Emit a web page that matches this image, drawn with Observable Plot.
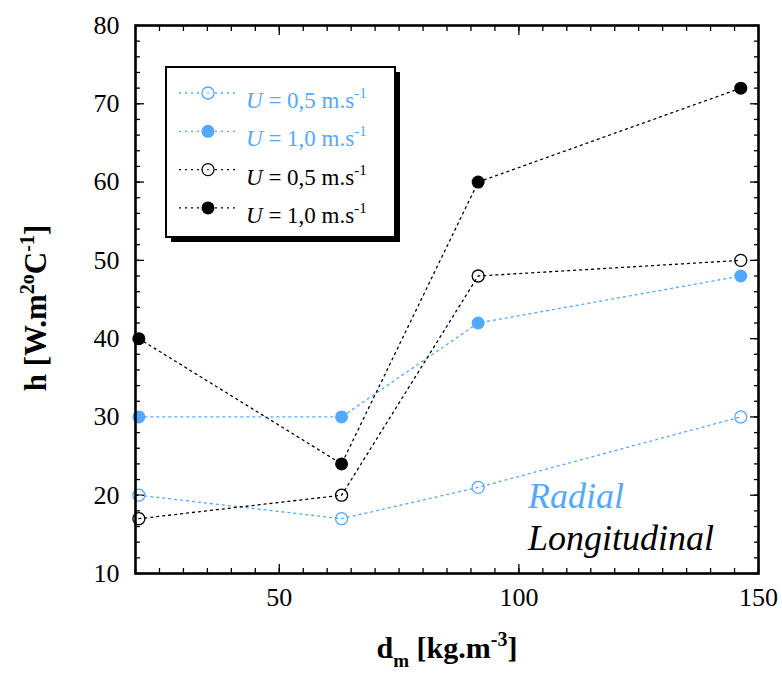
<!DOCTYPE html>
<html>
<head>
<meta charset="utf-8">
<script src="https://cdn.jsdelivr.net/npm/d3@7"></script>
<script src="https://cdn.jsdelivr.net/npm/@observablehq/plot@0.6"></script>
<style>
  html, body { margin: 0; padding: 0; background: white; }
  #chart { position: relative; width: 782px; height: 675px; }
</style>
</head>
<body>
<div id="chart"></div>
<script>
// ---- data ----
const dm = [20.7, 63, 91.5, 146.3];            // d_m [kg.m-3]
const radial05 = [20, 17, 21, 30];             // Radial, U = 0,5 m/s
const radial10 = [30, 30, 42, 48];             // Radial, U = 1,0 m/s
const long05 = [17, 20, 48, 50];               // Longitudinal, U = 0,5 m/s
const long10 = [40, 24, 60, 72];               // Longitudinal, U = 1,0 m/s
const xMajorTicks = [50, 100, 150];
const xMinorTicks = d3.range(20, 151, 5);
const yMajorTicks = [10, 20, 30, 40, 50, 60, 70, 80];
const yMinorTicks = d3.range(10, 81, 2);
const seriesLabels = ["0,5", "1,0", "0,5", "1,0"];

const BLUE = "#52a9ff";
const series = [
  {name: "r05", values: radial05, color: BLUE, filled: false, label: seriesLabels[0]},
  {name: "r10", values: radial10, color: BLUE, filled: true, label: seriesLabels[1]},
  {name: "l05", values: long05, color: "black", filled: false, label: seriesLabels[2]},
  {name: "l10", values: long10, color: "black", filled: true, label: seriesLabels[3]}
];
const rows = series.flatMap(s => dm.map((x, i) => ({x, y: s.values[i], name: s.name})));

const lineMarks = series.map(s => Plot.line(rows.filter(r => r.name === s.name), {
  x: "x", y: "y", stroke: s.color, strokeWidth: 1.3, strokeDasharray: "2,4"
}));
const dotMarks = series.map(s => Plot.dot(rows.filter(r => r.name === s.name), {
  x: "x", y: "y", r: s.filled ? 6.5 : 6,
  fill: s.filled ? s.color : "none", stroke: s.color, strokeWidth: s.filled ? 0 : 1.3
}));

const FONT = "'Liberation Serif', 'Times New Roman', serif";
const chart = Plot.plot({
  width: 782, height: 675,
  marginLeft: 135, marginRight: 24, marginTop: 25, marginBottom: 102,
  x: {domain: [20, 150]},
  y: {domain: [10, 80]},
  style: {fontFamily: FONT, fontSize: "26px", color: "black", background: "white"},
  marks: [
    // minor ticks (inward)
    Plot.axisX(xMinorTicks, {anchor: "bottom", tickSize: -5, fill: "none", strokeWidth: 1.3, label: null}),
    Plot.axisX(xMinorTicks, {anchor: "top", tickSize: -5, fill: "none", strokeWidth: 1.3, label: null}),
    Plot.axisY(yMinorTicks, {anchor: "left", tickSize: -5, fill: "none", strokeWidth: 1.3, label: null}),
    Plot.axisY(yMinorTicks, {anchor: "right", tickSize: -5, fill: "none", strokeWidth: 1.3, label: null}),
    // major ticks (inward)
    Plot.axisX(xMajorTicks, {anchor: "bottom", tickSize: -9, fill: "none", strokeWidth: 1.3, label: null}),
    Plot.axisX(xMajorTicks, {anchor: "top", tickSize: -9, fill: "none", strokeWidth: 1.3, label: null}),
    Plot.axisY(yMajorTicks, {anchor: "left", tickSize: -9, fill: "none", strokeWidth: 1.3, label: null}),
    Plot.axisY(yMajorTicks, {anchor: "right", tickSize: -9, fill: "none", strokeWidth: 1.3, label: null}),
    // tick labels
    Plot.axisX(xMajorTicks, {anchor: "bottom", tickSize: 0, tickPadding: 14, fontSize: 26, label: null}),
    Plot.axisY(yMajorTicks, {anchor: "left", tickSize: 0, tickPadding: 16, fontSize: 26, label: null}),
    ...lineMarks,
    ...dotMarks,
    Plot.frame({stroke: "black", strokeWidth: 2.6})
  ]
});
document.getElementById("chart").appendChild(chart);

const svg = d3.select(chart);

// axis titles
const xt = svg.append("text")
  .attr("x", 447).attr("y", 658)
  .attr("text-anchor", "middle")
  .style("font-family", FONT).style("font-size", "30px").style("font-weight", "bold").attr("fill", "black");
xt.append("tspan").text("d");
xt.append("tspan").attr("dy", 9).style("font-size", "19px").text("m");
xt.append("tspan").attr("dy", -9).text(" [kg.m");
xt.append("tspan").attr("dy", -12).style("font-size", "20px").text("-3");
xt.append("tspan").attr("dy", 12).text("]");

const yt = svg.append("text")
  .attr("transform", "translate(46,308) rotate(-90)")
  .attr("text-anchor", "middle")
  .style("font-family", FONT).style("font-size", "31px").style("font-weight", "bold").attr("fill", "black");
yt.append("tspan").text("h [W.m");
yt.append("tspan").attr("dy", -12).style("font-size", "20px").text("2o");
yt.append("tspan").attr("dy", 12).text("C");
yt.append("tspan").attr("dy", -12).style("font-size", "20px").text("-1");
yt.append("tspan").attr("dy", 12).text("]");

// annotations
svg.append("text").attr("x", 528).attr("y", 508).attr("text-anchor", "start")
  .style("font-family", FONT).style("font-size", "36px").style("font-style", "italic")
  .attr("fill", BLUE).text("Radial");
svg.append("text").attr("x", 528).attr("y", 550).attr("text-anchor", "start")
  .style("font-family", FONT).style("font-size", "36px").style("font-style", "italic")
  .attr("fill", "black").text("Longitudinal");

// legend
const lg = svg.append("g");
lg.append("rect").attr("x", 171).attr("y", 72).attr("width", 229).attr("height", 170).attr("fill", "black");
lg.append("rect").attr("x", 166).attr("y", 67).attr("width", 229).attr("height", 170)
  .attr("fill", "white").attr("stroke", "black").attr("stroke-width", 2);
series.forEach((s, i) => {
  const cy = 93 + i * 38.3;
  lg.append("line").attr("x1", 179).attr("x2", 237).attr("y1", cy).attr("y2", cy)
    .attr("stroke", s.color).attr("stroke-width", 1.3).attr("stroke-dasharray", "2,4");
  lg.append("circle").attr("cx", 208).attr("cy", cy).attr("r", s.filled ? 6.5 : 6)
    .attr("fill", s.filled ? s.color : "white").attr("stroke", s.color).attr("stroke-width", s.filled ? 0 : 1.3);
  if (!s.filled) lg.append("circle").attr("cx", 208).attr("cy", cy).attr("r", 0.8).attr("fill", s.color);
  const t = lg.append("text").attr("x", 246).attr("y", cy + 15).attr("text-anchor", "start")
    .style("font-family", FONT).style("font-size", "23px").attr("fill", s.color);
  t.append("tspan").style("font-style", "italic").text("U");
  t.append("tspan").text(" = " + s.label + " m.s");
  t.append("tspan").attr("dy", -10).style("font-size", "15px").text("-1");
});
</script>
</body>
</html>
